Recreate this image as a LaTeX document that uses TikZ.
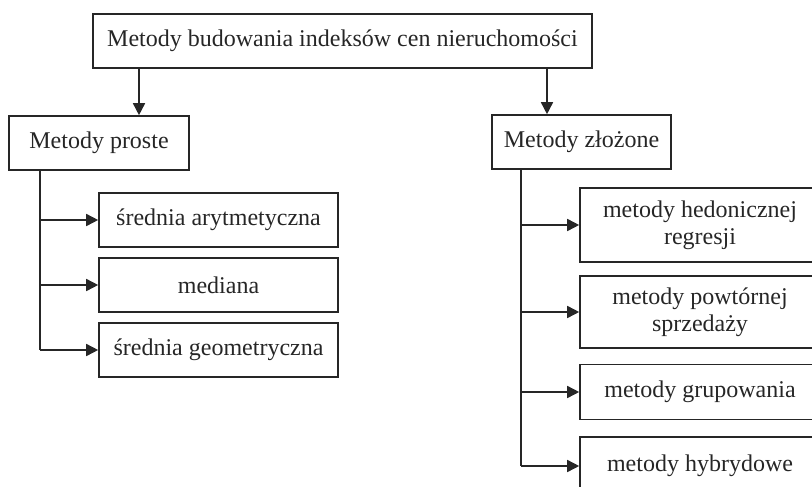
\documentclass[tikz,border=0pt]{standalone}
\usepackage{fontspec}
\setmainfont{Liberation Serif}
\usetikzlibrary{arrows.meta}
\begin{document}
\begin{tikzpicture}[x=1pt,y=-1pt,
  box/.style={draw=black!85, line width=1.6pt, inner sep=0pt, align=center,
    font=\fontsize{24}{27}\selectfont, text=black!85},
  ln/.style={draw=black!85, line width=1.6pt},
  arr/.style={ln, -{Triangle[length=12pt,width=12pt]}}]
\useasboundingbox (0,0) rectangle (812,487);
\clip (0,0) rectangle (812,487);
\node[box, minimum width=499pt, minimum height=54pt] (top) at (342.5,41) {Metody budowania indeksów cen nieruchomości};
\node[box, minimum width=180pt, minimum height=54pt] (p) at (99,143) {Metody proste};
\node[box, minimum width=179pt, minimum height=54pt] (z) at (581.5,142) {Metody złożone};
\node[box, minimum width=239pt, minimum height=54pt] (c1) at (218.5,220) {średnia arytmetyczna};
\node[box, minimum width=239pt, minimum height=54pt] (c2) at (218.5,285) {mediana};
\node[box, minimum width=239pt, minimum height=54pt] (c3) at (218.5,350) {średnia geometryczna};
\node[box, minimum width=240pt, minimum height=74pt] (d1) at (700,225) {metody hedonicznej\\regresji};
\node[box, minimum width=240pt, minimum height=72pt] (d2) at (700,312) {metody powtórnej\\sprzedaży};
\node[box, minimum width=240pt, minimum height=55pt] (d3) at (700,392) {metody grupowania};
\node[box, minimum width=240pt, minimum height=58pt] (d4) at (700,466) {metody hybrydowe};
\coordinate (a1) at (139,0);
\coordinate (a2) at (547,0);
\coordinate (bl) at (40,0);
\coordinate (br) at (521,0);
\draw[arr] (top.south -| a1) -- (a1 |- p.north);
\draw[arr] (top.south -| a2) -- (a2 |- z.north);
\draw[ln] (p.south -| bl) -- (bl |- c3.west);
\draw[arr] (bl |- c1.west) -- (c1.west);
\draw[arr] (bl |- c2.west) -- (c2.west);
\draw[arr] (bl |- c3.west) -- (c3.west);
\draw[ln] (z.south -| br) -- (br |- d4.west);
\draw[arr] (br |- d1.west) -- (d1.west);
\draw[arr] (br |- d2.west) -- (d2.west);
\draw[arr] (br |- d3.west) -- (d3.west);
\draw[arr] (br |- d4.west) -- (d4.west);
\end{tikzpicture}
\end{document}
